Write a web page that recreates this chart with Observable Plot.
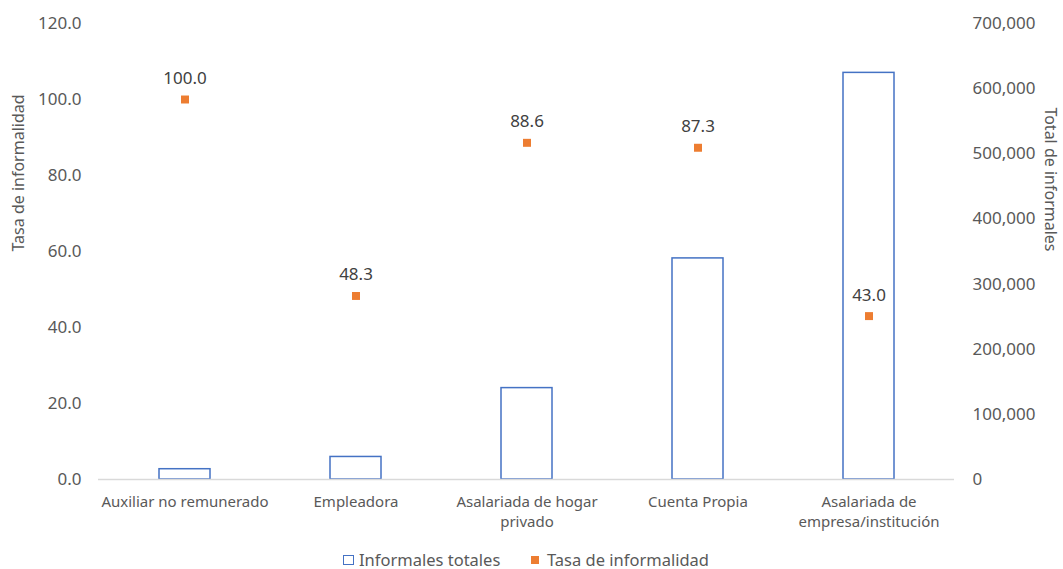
<!DOCTYPE html>
<html>
<head>
<meta charset="utf-8">
<script src="https://cdn.jsdelivr.net/npm/d3@7"></script>
<script src="https://cdn.jsdelivr.net/npm/@observablehq/plot@0.6"></script>
<style>
  body { margin: 0; background: #fff; font-family: "Noto Sans", sans-serif; overflow: hidden; }
  #legend { position: relative; height: 29px; font-size: 16.5px; color: #595959; }
  #legend .item { position: absolute; top: 8px; display: flex; align-items: center; white-space: nowrap; }
  #legend .sw-bar { width: 9px; height: 8px; border: 1.5px solid #4472C4; margin-right: 5px; background: #fff; }
  #legend .sw-dot { width: 8px; height: 8px; background: #ED7D31; margin-right: 8px; }
</style>
</head>
<body>
<div id="chart"></div>
<div id="legend"></div>
<script>
// Position in employment categories
const categories = [
  "Auxiliar no remunerado",
  "Empleadora",
  "Asalariada de hogar privado",
  "Cuenta Propia",
  "Asalariada de empresa/institución"
];
const categoryLabels = [
  "Auxiliar no remunerado",
  "Empleadora",
  "Asalariada de hogar\nprivado",
  "Cuenta Propia",
  "Asalariada de\nempresa/institución"
];
// Total informal workers (right axis)
const totalInformales = [15800, 34600, 140300, 339400, 624200];
// Informality rate, % (left axis)
const tasaInformalidad = [100.0, 48.3, 88.6, 87.3, 43.0];

const leftTicks = [0, 20, 40, 60, 80, 100, 120];
const rightTicks = [0, 100000, 200000, 300000, 400000, 500000, 600000, 700000];

const seriesNames = ["Informales totales", "Tasa de informalidad"];
const axisTitles = ["Tasa de informalidad", "Total de informales"];

// The right axis shares the y scale: totals are rescaled onto the 0–120 range
const k = 120 / 700000;

const data = categories.map((c, i) => ({
  cat: c,
  total: totalInformales[i],
  tasa: tasaInformalidad[i]
}));
const labelOf = new Map(categories.map((c, i) => [c, categoryLabels[i]]));

const blue = "#4472C4";
const orange = "#ED7D31";
const grey = "#595959";

const chart = Plot.plot({
  width: 1063,
  height: 540,
  marginLeft: 98,
  marginRight: 109,
  marginTop: 23,
  marginBottom: 61,
  style: { fontFamily: "Noto Sans, sans-serif", background: "#fff" },
  x: { domain: categories, padding: 0 },
  y: { domain: [0, 120] },
  marks: [
    Plot.barY(data, {
      x: "cat",
      y: d => d.total * k,
      fill: "#fff",
      stroke: blue,
      strokeWidth: 1.5,
      insetLeft: 60,
      insetRight: 60
    }),
    Plot.ruleY([0], { stroke: "#d9d9d9", strokeWidth: 1.5 }),
    Plot.dot(data, {
      x: "cat",
      y: "tasa",
      symbol: "square",
      r: 4.5,
      fill: orange,
      stroke: "none"
    }),
    Plot.text(data, {
      x: "cat",
      y: "tasa",
      text: d => d.tasa.toFixed(1),
      dy: -21,
      fontSize: 17,
      fill: "#404040"
    }),
    Plot.axisY(leftTicks, {
      anchor: "left",
      tickSize: 0,
      tickPadding: 17,
      tickFormat: d => d.toFixed(1),
      fontSize: 17,
      fill: grey,
      label: null
    }),
    Plot.axisY(rightTicks.map(v => v * k), {
      anchor: "right",
      tickSize: 0,
      tickPadding: 18,
      tickFormat: d => d3.format(",")(Math.round(d / k)),
      fontSize: 17,
      fill: grey,
      label: null
    }),
    Plot.axisX({
      tickSize: 0,
      tickPadding: 13,
      tickFormat: d => labelOf.get(d),
      fontSize: 15,
      lineHeight: 20 / 15,
      fill: grey,
      label: null
    }),
    Plot.text([axisTitles[0]], {
      text: d => d,
      frameAnchor: "left",
      rotate: -90,
      dx: -80,
      fontSize: 16,
      fill: grey
    }),
    Plot.text([axisTitles[1]], {
      text: d => d,
      frameAnchor: "right",
      rotate: 90,
      dx: 96,
      fontSize: 16,
      fill: grey
    })
  ]
});
document.getElementById("chart").appendChild(chart);

// Legend below the chart
const legend = document.getElementById("legend");
const items = [
  { name: seriesNames[0], cls: "sw-bar", left: 343 },
  { name: seriesNames[1], cls: "sw-dot", left: 531 }
];
for (const it of items) {
  const el = document.createElement("div");
  el.className = "item";
  el.style.left = it.left + "px";
  const sw = document.createElement("span");
  sw.className = it.cls;
  const tx = document.createElement("span");
  tx.textContent = it.name;
  el.appendChild(sw);
  el.appendChild(tx);
  legend.appendChild(el);
}
</script>
</body>
</html>
